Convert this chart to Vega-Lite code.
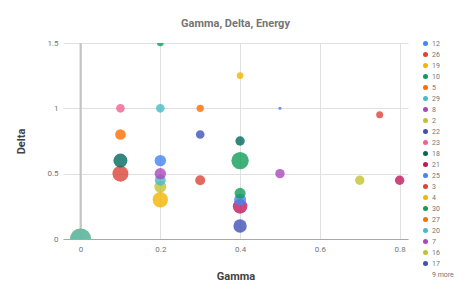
{
  "$schema": "https://vega.github.io/schema/vega-lite/v6.json",
  "width": 345,
  "height": 196,
  "autosize": {"type": "none"},
  "padding": {"left": 63, "top": 43, "right": 59, "bottom": 60},
  "title": {"text": "Gamma, Delta, Energy", "fontSize": 11, "fontWeight": "bold", "color": "#757575", "font": "Roboto", "anchor": "middle", "offset": 10},
  "config": {
    "view": {"stroke": null},
    "font": "Roboto",
    "axis": {"gridColor": "#e0e0e0", "ticks": false, "labelFontSize": 8, "labelColor": "#757575", "titleFontSize": 11, "titleColor": "#424242", "titleFontWeight": "bold", "labelFont": "Roboto", "titleFont": "Roboto"}
  },
  "layer": [
    {
      "data": {"values": [{"Gamma": 0}]},
      "mark": {"type": "rule", "color": "#c4c4c4", "strokeWidth": 2},
      "encoding": {"x": {"field": "Gamma", "type": "quantitative"}}
    },
    {
      "data": {"values": [
        {"id": "14", "Gamma": 0, "Delta": 0, "Energy": 10.5},
        {"id": "24", "Gamma": 0.9, "Delta": 1.7, "Energy": 5},
        {"id": "1", "Gamma": 0.95, "Delta": 1.8, "Energy": 5},
        {"id": "28", "Gamma": 0, "Delta": 0, "Energy": 10.5},
        {"id": "10", "Gamma": 0.4, "Delta": 0.6, "Energy": 8.7},
        {"id": "26", "Gamma": 0.1, "Delta": 0.5, "Energy": 8},
        {"id": "18", "Gamma": 0.1, "Delta": 0.6, "Energy": 7},
        {"id": "19", "Gamma": 0.2, "Delta": 0.3, "Energy": 7.7},
        {"id": "21", "Gamma": 0.4, "Delta": 0.25, "Energy": 7.3},
        {"id": "17", "Gamma": 0.4, "Delta": 0.1, "Energy": 6.7},
        {"id": "25", "Gamma": 0.4, "Delta": 0.3, "Energy": 6},
        {"id": "30", "Gamma": 0.4, "Delta": 0.35, "Energy": 5.5},
        {"id": "2", "Gamma": 0.2, "Delta": 0.4, "Energy": 6},
        {"id": "20", "Gamma": 0.2, "Delta": 0.45, "Energy": 5.5},
        {"id": "8", "Gamma": 0.2, "Delta": 0.5, "Energy": 5.7},
        {"id": "12", "Gamma": 0.2, "Delta": 0.6, "Energy": 5.7},
        {"id": "5", "Gamma": 0.1, "Delta": 0.8, "Energy": 5.3},
        {"id": "3", "Gamma": 0.3, "Delta": 0.45, "Energy": 5},
        {"id": "7", "Gamma": 0.5, "Delta": 0.5, "Energy": 4.7},
        {"id": "16", "Gamma": 0.7, "Delta": 0.45, "Energy": 4.7},
        {"id": "9", "Gamma": 0.8, "Delta": 0.45, "Energy": 4.7},
        {"id": "6", "Gamma": 0.4, "Delta": 0.75, "Energy": 4.7},
        {"id": "22", "Gamma": 0.3, "Delta": 0.8, "Energy": 4.3},
        {"id": "23", "Gamma": 0.1, "Delta": 1.0, "Energy": 4.3},
        {"id": "29", "Gamma": 0.2, "Delta": 1.0, "Energy": 4.3},
        {"id": "27", "Gamma": 0.3, "Delta": 1.0, "Energy": 3.7},
        {"id": "13", "Gamma": 0.75, "Delta": 0.95, "Energy": 3.5},
        {"id": "4", "Gamma": 0.4, "Delta": 1.25, "Energy": 3.3},
        {"id": "15", "Gamma": 0.2, "Delta": 1.5, "Energy": 3.3},
        {"id": "11", "Gamma": 0.5, "Delta": 1.0, "Energy": 1.7}
      ]},
      "mark": {"type": "circle", "opacity": 0.8, "clip": true},
      "encoding": {
        "x": {"field": "Gamma", "type": "quantitative", "scale": {"domain": [-0.044, 0.821], "nice": false, "zero": false},
          "axis": {"title": "Gamma", "values": [0, 0.2, 0.4, 0.6, 0.8], "format": "~g", "domainColor": "#a8a8a8", "labelPadding": 6, "titlePadding": 17}},
        "y": {"field": "Delta", "type": "quantitative", "scale": {"domain": [0, 1.5], "nice": false},
          "axis": {"title": "Delta", "values": [0, 0.5, 1, 1.5], "format": "~g", "domain": false, "labelPadding": 5, "titlePadding": 20}},
        "size": {"field": "Energy", "type": "quantitative", "scale": {"type": "pow", "exponent": 2, "domain": [0, 10], "range": [0, 400]}, "legend": null},
        "color": {"field": "id", "type": "nominal",
          "scale": {
            "domain": ["12","26","19","10","5","29","8","2","22","23","18","21","25","3","4","30","27","20","7","16","17","9 more","1","6","9","11","13","14","15","24","28"],
            "range": ["#4285F4","#DB4437","#F4B400","#0F9D58","#FF6D00","#46BDC6","#AB47BC","#C2C22E","#3F51B5","#F06292","#00695C","#C2185B",
                      "#4285F4","#DB4437","#F4B400","#0F9D58","#FF6D00","#46BDC6","#AB47BC","#C2C22E","#3F51B5","rgba(255,255,255,0)","#F06292","#00695C","#C2185B",
                      "#4285F4","#DB4437","#F4B400","#0F9D58","#FF6D00","#46BDC6"]
          },
          "legend": {"title": null, "orient": "none", "legendX": 359, "legendY": -3, "symbolType": "circle", "symbolSize": 25, "symbolOpacity": 1, "symbolStrokeWidth": 0,
            "labelFontSize": 7, "labelColor": "#757575", "labelFont": "Roboto", "labelOffset": 3, "rowPadding": 3,
            "values": ["12","26","19","10","5","29","8","2","22","23","18","21","25","3","4","30","27","20","7","16","17","9 more"]}
        }
      }
    }
  ]
}
